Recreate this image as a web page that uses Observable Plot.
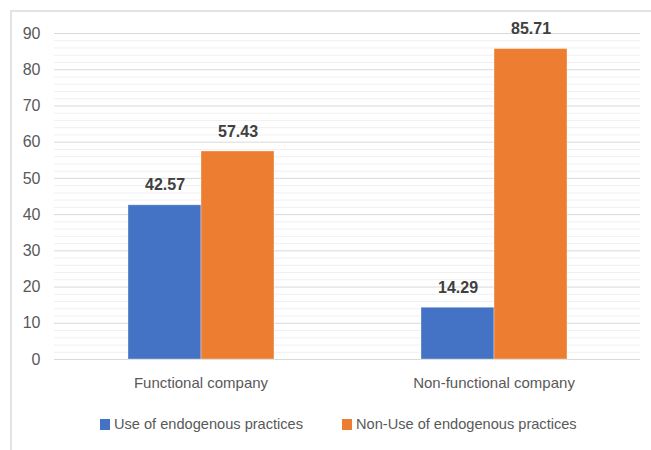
<!DOCTYPE html>
<html>
<head>
<meta charset="utf-8">
<script src="https://cdn.jsdelivr.net/npm/d3@7"></script>
<script src="https://cdn.jsdelivr.net/npm/@observablehq/plot@0.6"></script>
<style>
  html, body { margin: 0; padding: 0; background: #fff; }
  #wrap { position: relative; width: 651px; height: 450px; overflow: hidden; font-family: "Liberation Sans", Arial, sans-serif; }
  #frame { position: absolute; left: 10px; top: 10px; width: 700px; height: 500px; border-left: 2px solid #e3e3e3; border-top: 2px solid #e3e3e3; box-sizing: border-box; }
  #chart { position: absolute; left: 0; top: 0; }
  .legend { position: absolute; top: 416px; font-size: 14.6px; color: #595959; display: flex; align-items: center; white-space: nowrap; }
  .legend .sw { width: 10px; height: 11px; margin-right: 4px; }
</style>
</head>
<body>
<div id="wrap">
  <div id="frame"></div>
  <div id="chart"></div>
  <div class="legend" style="left:100px"><span class="sw" style="background:#4472C4"></span>Use of endogenous practices</div>
  <div class="legend" style="left:342px"><span class="sw" style="background:#ED7D31"></span>Non-Use of endogenous practices</div>
</div>
<script>
const categories = ["Functional company", "Non-functional company"];
const series = ["Use of endogenous practices", "Non-Use of endogenous practices"];
const useValues = [42.57, 14.29];
const nonUseValues = [57.43, 85.71];
const colors = ["#4472C4", "#ED7D31"];
const yTicks = [0, 10, 20, 30, 40, 50, 60, 70, 80, 90];
const minorTicks = d3.range(0, 91, 2).filter(v => v % 10 !== 0);

const data = [];
categories.forEach((c, i) => {
  data.push({category: c, series: series[0], value: useValues[i]});
  data.push({category: c, series: series[1], value: nonUseValues[i]});
});

const chart = Plot.plot({
  width: 651,
  height: 400,
  marginLeft: 53,
  marginRight: 11,
  marginTop: 33,
  marginBottom: 41,
  style: {fontFamily: "Liberation Sans, Arial, sans-serif", background: "transparent"},
  fx: {domain: categories, padding: 0, label: null},
  x: {domain: series, paddingInner: 0, paddingOuter: 1, axis: null},
  y: {domain: [0, 90], label: null},
  color: {domain: series, range: colors},
  marks: [
    Plot.ruleY(minorTicks, {stroke: "#f0f0f0", strokeWidth: 1}),
    Plot.ruleY(yTicks, {stroke: "#d9d9d9", strokeWidth: 1}),
    Plot.barY(data, {fx: "category", x: "series", y: "value", fill: "series", stroke: "#ffffff", strokeOpacity: 0.35, strokeWidth: 1}),
    Plot.text(data, {fx: "category", x: "series", y: "value", text: d => d.value.toFixed(2), dy: -20, fontSize: 16, fontWeight: "bold", fill: "#404040"}),
    Plot.axisY({ticks: yTicks, tickSize: 0, tickPadding: 14, fontSize: 16, color: "#595959", label: null}),
    Plot.axisFx({anchor: "bottom", tickSize: 0, tickPadding: 18, fontSize: 15, color: "#595959", label: null})
  ]
});
document.getElementById("chart").appendChild(chart);
</script>
</body>
</html>
